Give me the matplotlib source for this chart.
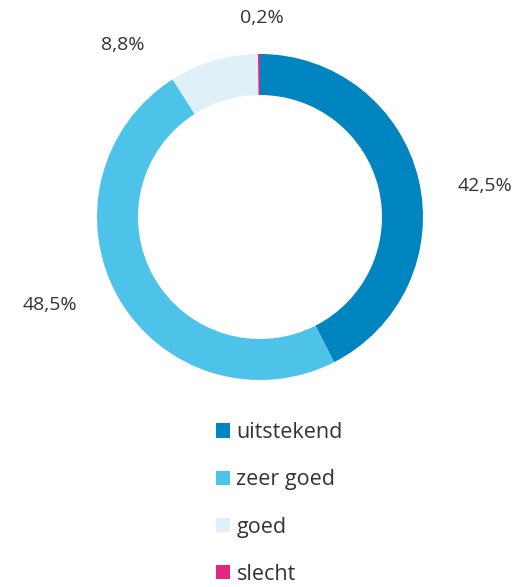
import matplotlib.pyplot as plt
from matplotlib.patches import Patch

categories = ['uitstekend', 'zeer goed', 'goed', 'slecht']
values = [42.5, 48.5, 8.8, 0.2]
pct_labels = ['42,5%', '48,5%', '8,8%', '0,2%']
colors = ['#0085C1', '#4DC3E9', '#DFF0F8', '#E0287F']

W, H = 515, 587
plt.rcParams['font.family'] = ['Open Sans', 'DejaVu Sans']

fig = plt.figure(figsize=(W / 100, H / 100), dpi=100)
ax = fig.add_axes([0, 0, 1, 1])

# donut, centre and radius in pixel units
cx, cy, r_out, r_in = 260, H - 217, 163, 122
wedges, _ = ax.pie(values, colors=colors, startangle=90, counterclock=False,
                   center=(cx, cy), radius=r_out,
                   wedgeprops=dict(width=r_out - r_in, linewidth=0))
ax.set_xlim(0, W)
ax.set_ylim(0, H)
ax.set_aspect('equal')
ax.axis('off')

# percentage labels (placed by hand like the original)
label_pos = [(485, 186), (50, 305), (123, 45), (262, 18)]
for txt, (x, y) in zip(pct_labels, label_pos):
    ax.text(x, H - y, txt, ha='center', va='center', fontsize=14, color='#333333')

handles = [Patch(facecolor=c, edgecolor='none') for c in colors]
fig.legend(handles, categories, loc='upper left',
           bbox_to_anchor=(216 / W, 1 - 422 / H), frameon=False,
           fontsize=15.5, labelcolor='#333333', handlelength=0.65, handleheight=0.65,
           handletextpad=0.3, labelspacing=1.22, borderpad=0, borderaxespad=0)

fig.savefig('out.png', dpi=100)
